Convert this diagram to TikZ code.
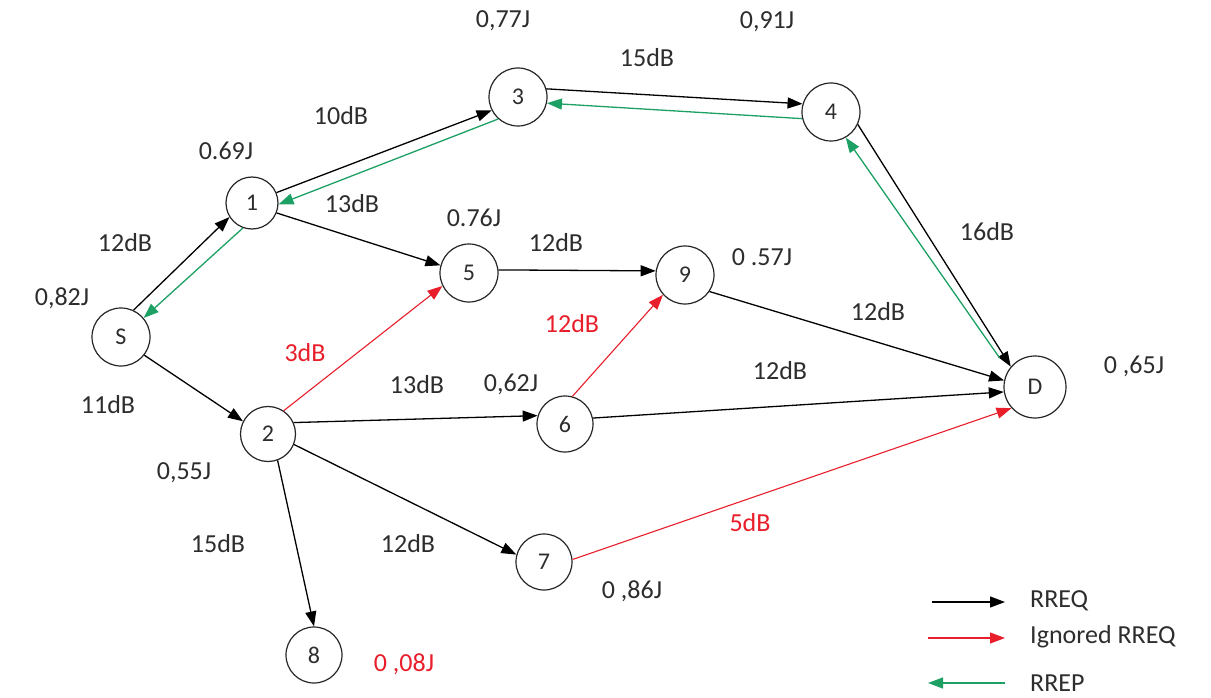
\documentclass[tikz,border=0pt]{standalone}
\usepackage{fontspec}
\setmainfont{Carlito}
\usetikzlibrary{arrows.meta}
\definecolor{txt}{RGB}{45,45,45}
\definecolor{rr}{RGB}{232,30,42}
\definecolor{gg}{RGB}{28,160,100}
\begin{document}
\begin{tikzpicture}[x=1pt,y=-1pt,
  nd/.style={circle,draw=black!85,line width=1.2pt,minimum size=58pt,inner sep=0pt,font=\fontsize{24}{28}\selectfont,text=txt},
  lbl/.style={font=\fontsize{26}{30}\selectfont,text=txt,inner sep=0pt},
  rlbl/.style={font=\fontsize{26}{30}\selectfont,text=rr,inner sep=0pt},
  req/.style={draw=black,line width=1.3pt,-{Triangle[length=15pt,width=11pt]}},
  ign/.style={draw=rr,line width=1.1pt,-{Triangle[length=15pt,width=11pt]}},
  rep/.style={draw=gg,line width=1.3pt,-{Triangle[length=15pt,width=11pt]}},
]
\useasboundingbox (0,0) rectangle (1211,698);
% nodes
\node[nd] (S) at (121,337) {S};
\node[nd,minimum size=52pt] (n1) at (252,203) {1};
\node[nd] (n3) at (518,97) {3};
\node[nd] (n4) at (831,112) {4};
\node[nd] (n5) at (469,273) {5};
\node[nd] (n9) at (685,275) {9};
\node[nd,minimum size=55pt] (n2) at (268,434) {2};
\node[nd,minimum size=56pt] (n6) at (565,424) {6};
\node[nd,minimum size=56pt] (n7) at (544,562) {7};
\node[nd,minimum size=56pt] (n8) at (314,655) {8};
\node[nd,minimum size=62pt] (D) at (1035,387) {D};
% edges
\draw[req] (S.65) -- (n1.212);
\draw[rep] (n1.250) -- (S.40);
\draw[req] (n1.23) -- (n3.207);
\draw[rep] (n3.228) -- (n1.-3);
\draw[req] (n3.16) -- (n4.164);
\draw[rep] (n4.193) -- (n3.-12);
\draw[req] (n4.-25) -- (D.140);
\draw[rep,shorten <=15pt] (D.148) -- (n4.-60);
\draw[req] (n1.-22) -- (n5.165);
\draw[req] (n5.6) -- (n9.172);
\draw[req] (S.-38) -- (n2.153);
\draw[ign] (n2.56) -- (n5.206);
\draw[req] (n2.24) -- (n6.163);
\draw[ign] (n6.75) -- (n9.222);
\draw[req] (n6.12) -- (D.189);
\draw[req] (n9.-34) -- (D.168);
\draw[req] (n2.-22) -- (n7.165);
\draw[req] (n2.-70) -- (n8.90);
\draw[ign] (n7.5) -- (D.222);
% labels
\node[lbl] (e3) at (503,21) {0,77J};
\node[lbl] (w34) at (647,58) {15dB};
\node[lbl] (e4) at (767,22) {0,91J};
\node[lbl] (w13) at (341,116) {10dB};
\node[lbl] (e1) at (226,151) {0.69J};
\node[lbl] (w15) at (352,204) {13dB};
\node[lbl] (e5) at (474,218) {0.76J};
\node[lbl] (wS1) at (125,243) {12dB};
\node[lbl] (w59) at (556,243) {12dB};
\node[lbl] (w4D) at (987,232) {16dB};
\node[lbl] (e9) at (762,257) {0 .57J};
\node[lbl] (eS) at (62,298) {0,82J};
\node[rlbl] (w69) at (572,324) {12dB};
\node[lbl] (w9D) at (878,312) {12dB};
\node[rlbl] (w25) at (305,353) {3dB};
\node[lbl] (w26) at (417,385) {13dB};
\node[lbl] (e6) at (511,384) {0,62J};
\node[lbl] (w6D) at (780,371) {12dB};
\node[lbl] (eD) at (1134,366) {0 ,65J};
\node[lbl] (wS2) at (108,405) {11dB};
\node[lbl] (e2) at (184,473) {0,55J};
\node[lbl] (w28) at (218,544) {15dB};
\node[lbl] (w27) at (408,544) {12dB};
\node[rlbl] (w7D) at (750,523) {5dB};
\node[lbl] (e7) at (632,591) {0 ,86J};
\node[rlbl] (e8) at (404,664) {0 ,08J};
% legend
\coordinate (la1) at (932,602); \coordinate (lb1) at (1005,602);
\coordinate (la2) at (928,638); \coordinate (lb2) at (1005,638);
\coordinate (la3) at (928,683); \coordinate (lb3) at (1005,683);
\draw[req] (la1) -- (lb1);
\draw[ign] (la2) -- (lb2);
\draw[rep] (lb3) -- (la3);
\node[lbl,anchor=west] (l1) at (1030,601) {RREQ};
\node[lbl,anchor=west] (l2) at (1030,637) {Ignored RREQ};
\node[lbl,anchor=west] (l3) at (1030,683) {RREP};
\end{tikzpicture}
\end{document}
